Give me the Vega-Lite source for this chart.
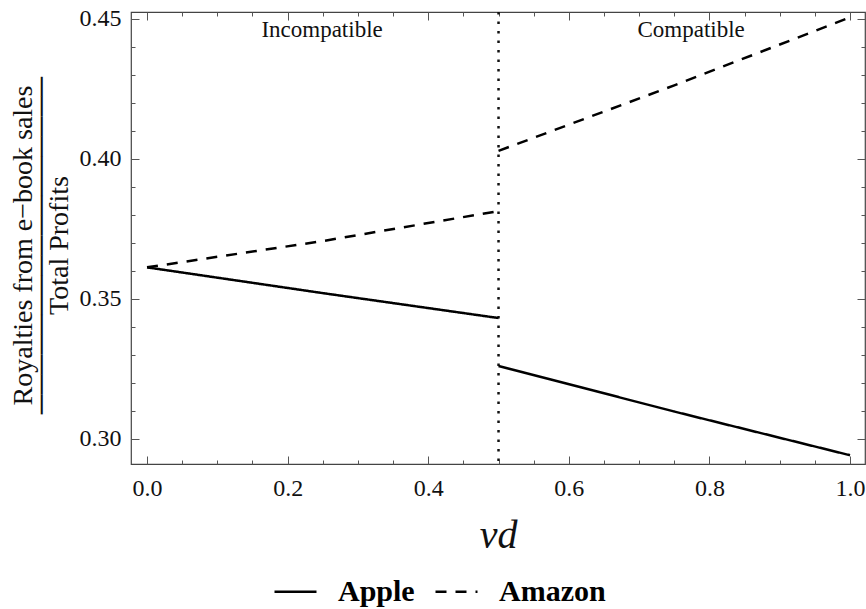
{
  "$schema": "https://vega.github.io/schema/vega-lite/v6.json",
  "width": 734,
  "height": 452,
  "autosize": {"type": "none"},
  "padding": {"left": 131, "top": 12, "right": 1, "bottom": 145},
  "config": {
    "font": "Liberation Serif",
    "view": {"stroke": "#444", "strokeWidth": 1.2},
    "axis": {
      "domain": false,
      "grid": false,
      "labelFont": "Liberation Serif",
      "labelFontSize": 24,
      "labelColor": "#111",
      "tickColor": "#555",
      "tickWidth": 1
    }
  },
  "datasets": {
    "series": [
      {"firm": "Apple", "seg": "a1", "vd": 0.0, "ratio": 0.3613},
      {"firm": "Apple", "seg": "a1", "vd": 0.25, "ratio": 0.3521},
      {"firm": "Apple", "seg": "a1", "vd": 0.5, "ratio": 0.3432},
      {"firm": "Apple", "seg": "a2", "vd": 0.5, "ratio": 0.3261},
      {"firm": "Apple", "seg": "a2", "vd": 0.75, "ratio": 0.3098},
      {"firm": "Apple", "seg": "a2", "vd": 1.0, "ratio": 0.2942},
      {"firm": "Amazon", "seg": "m1", "vd": 0.0, "ratio": 0.3613},
      {"firm": "Amazon", "seg": "m1", "vd": 0.25, "ratio": 0.3707},
      {"firm": "Amazon", "seg": "m1", "vd": 0.5, "ratio": 0.3814},
      {"firm": "Amazon", "seg": "m2", "vd": 0.5, "ratio": 0.4029},
      {"firm": "Amazon", "seg": "m2", "vd": 0.75, "ratio": 0.4263},
      {"firm": "Amazon", "seg": "m2", "vd": 1.0, "ratio": 0.4506}
    ],
    "regions": [
      {"vd": 0.249, "ratio": 0.4461, "label": "Incompatible"},
      {"vd": 0.774, "ratio": 0.4461, "label": "Compatible"}
    ],
    "divider": [
      {"vd": 0.5}
    ]
  },
  "resolve": {"axis": {"x": "independent", "y": "independent"}},
  "layer": [
    {
      "data": {"name": "regions"},
      "mark": {"type": "text", "font": "Liberation Serif", "fontSize": 23, "color": "#111"},
      "encoding": {
        "x": {
          "field": "vd", "type": "quantitative",
          "scale": {"domain": [-0.0228, 1.0213], "nice": false, "zero": false},
          "axis": {
            "orient": "top", "title": null, "labels": false,
            "values": [0,0.05,0.1,0.15,0.2,0.25,0.3,0.35,0.4,0.45,0.5,0.55,0.6,0.65,0.7,0.75,0.8,0.85,0.9,0.95,1.0],
            "tickSize": {"condition": {"test": "abs(datum.value*5 - round(datum.value*5)) < 0.001", "value": -8}, "value": -4}
          }
        },
        "y": {
          "field": "ratio", "type": "quantitative",
          "scale": {"domain": [0.29107, 0.4525], "nice": false, "zero": false},
          "axis": {
            "orient": "right", "title": null, "labels": false,
            "values": [0.3,0.31,0.32,0.33,0.34,0.35,0.36,0.37,0.38,0.39,0.4,0.41,0.42,0.43,0.44,0.45],
            "tickSize": {"condition": {"test": "abs(datum.value*20 - round(datum.value*20)) < 0.001", "value": -8}, "value": -4}
          }
        },
        "text": {"field": "label"}
      }
    },
    {
      "data": {"name": "divider"},
      "mark": {"type": "rule", "strokeDash": [2.5, 7], "strokeWidth": 2.5, "color": "#111"},
      "encoding": {"x": {"field": "vd", "type": "quantitative", "axis": null}}
    },
    {
      "data": {"name": "series"},
      "mark": {"type": "line", "strokeWidth": 2.5, "color": "#000"},
      "encoding": {
        "x": {
          "field": "vd", "type": "quantitative",
          "axis": {
            "orient": "bottom",
            "title": "vd",
            "titleFont": "Liberation Serif",
            "titleFontStyle": "italic",
            "titleFontWeight": "normal",
            "titleFontSize": 40,
            "titleColor": "#111",
            "titlePadding": 15,
            "labelPadding": 20,
            "values": [0,0.05,0.1,0.15,0.2,0.25,0.3,0.35,0.4,0.45,0.5,0.55,0.6,0.65,0.7,0.75,0.8,0.85,0.9,0.95,1.0],
            "labelExpr": "abs(datum.value*5 - round(datum.value*5)) < 0.001 ? format(datum.value, '.1f') : ''",
            "tickSize": {"condition": {"test": "abs(datum.value*5 - round(datum.value*5)) < 0.001", "value": -8}, "value": -4}
          }
        },
        "y": {
          "field": "ratio", "type": "quantitative",
          "axis": {
            "orient": "left",
            "title": ["Royalties from e−book sales", "─────────────────", "Total Profits"],
            "titleFont": "Liberation Serif",
            "titleFontWeight": "normal",
            "titleFontSize": 28,
            "titleLineHeight": 18,
            "titleColor": "#111",
            "titlePadding": 6,
            "titleY": 233,
            "labelPadding": 18,
            "values": [0.3,0.31,0.32,0.33,0.34,0.35,0.36,0.37,0.38,0.39,0.4,0.41,0.42,0.43,0.44,0.45],
            "labelExpr": "abs(datum.value*20 - round(datum.value*20)) < 0.001 ? format(datum.value, '.2f') : ''",
            "tickSize": {"condition": {"test": "abs(datum.value*20 - round(datum.value*20)) < 0.001", "value": -8}, "value": -4}
          }
        },
        "detail": {"field": "seg"},
        "strokeDash": {
          "field": "firm", "type": "nominal",
          "scale": {"domain": ["Apple", "Amazon"], "range": [[1, 0], [11, 9]]},
          "legend": {
            "title": null,
            "orient": "none",
            "legendX": 142,
            "legendY": 557,
            "padding": 0,
            "direction": "horizontal",
            "symbolType": "stroke",
            "symbolSize": 1764,
            "symbolStrokeWidth": 2.5,
            "symbolStrokeColor": "#000",
            "labelFont": "Liberation Serif",
            "labelFontSize": 30,
            "labelFontWeight": "bold",
            "labelColor": "#000",
            "columnPadding": 15,
            "labelOffset": 20
          }
        }
      }
    }
  ]
}
